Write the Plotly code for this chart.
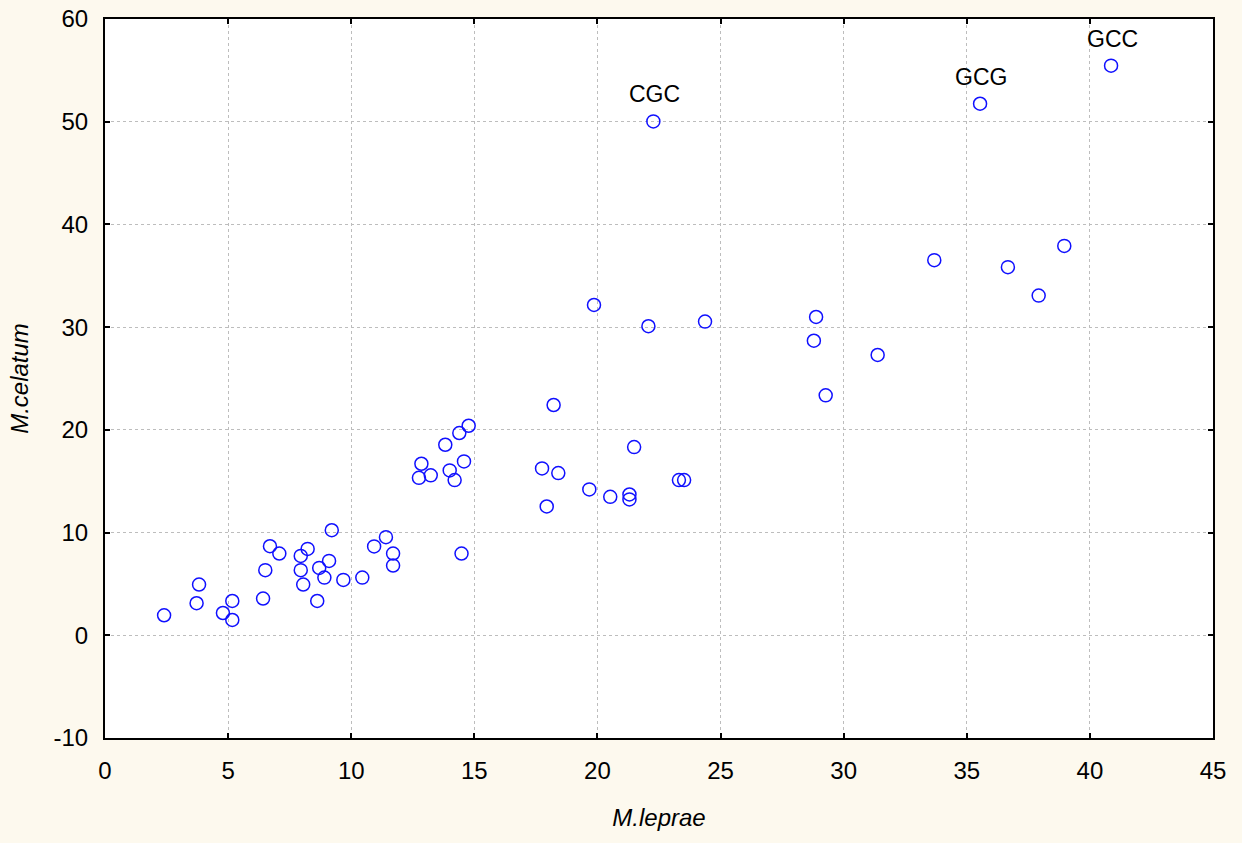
import plotly.graph_objects as go

# Relative codon usage: M. leprae (x) vs M. celatum (y)
m_leprae = [
    2.40, 3.72, 3.82, 4.79, 5.17, 5.17, 6.42, 6.51, 6.70, 7.08,
    7.95, 7.95, 8.05, 8.23, 8.62, 8.70, 8.91, 9.10, 9.21, 9.68,
    10.45, 10.93, 11.41, 11.70, 11.70, 14.48, 18.22, 14.77, 14.39, 13.82,
    12.85, 14.58, 14.00, 12.75, 13.23, 14.20, 17.75, 18.41, 21.49, 19.67,
    20.52, 21.30, 21.30, 17.94, 23.31, 23.52, 19.86, 22.07, 24.37, 28.88,
    28.79, 31.38, 29.27, 33.68, 36.67, 38.96, 37.92, 22.27, 35.54, 40.86,
]
m_celatum = [
    1.95, 3.12, 4.94, 2.17, 3.34, 1.49, 3.58, 6.34, 8.67, 7.96,
    7.73, 6.34, 4.94, 8.41, 3.34, 6.56, 5.62, 7.24, 10.23, 5.39,
    5.62, 8.65, 9.55, 7.96, 6.79, 7.96, 22.42, 20.40, 19.69, 18.55,
    16.70, 16.93, 16.05, 15.33, 15.57, 15.11, 16.25, 15.79, 18.32, 14.20,
    13.48, 13.71, 13.23, 12.54, 15.11, 15.11, 32.16, 30.09, 30.54, 30.99,
    28.68, 27.29, 23.36, 36.52, 35.84, 37.91, 33.07, 50.03, 51.75, 55.46,
]

# Codons singled out with a label
labeled_codons = ["CGC", "GCG", "GCC"]
labeled_x = [22.27, 35.54, 40.86]
labeled_y = [50.03, 51.75, 55.46]

x_ticks = [0, 5, 10, 15, 20, 25, 30, 35, 40, 45]
y_ticks = [-10, 0, 10, 20, 30, 40, 50, 60]

FONT = "Liberation Sans, Arial, sans-serif"

fig = go.Figure()
fig.add_trace(go.Scatter(
    x=m_leprae,
    y=m_celatum,
    mode="markers",
    marker=dict(symbol="circle-open", size=13, color="#1010FF",
                line=dict(width=1.5, color="#1010FF")),
    showlegend=False,
    hoverinfo="x+y",
))

for name, lx, ly in zip(labeled_codons, labeled_x, labeled_y):
    fig.add_annotation(
        x=lx, y=ly, text=name, showarrow=False,
        yshift=27, xshift=1,
        font=dict(family=FONT, size=23, color="black"),
    )

axis_common = dict(
    showline=True, linecolor="black", linewidth=2, mirror="ticks",
    ticks="inside", ticklen=5, tickwidth=2, tickcolor="black",
    showgrid=True, gridcolor="#BDBDBD", gridwidth=1, griddash="dot",
    zeroline=False, automargin=False,
    tickfont=dict(family=FONT, size=24, color="black"),
)

fig.update_xaxes(
    range=[0, 45], tickvals=x_ticks, ticktext=[str(v) for v in x_ticks],
    ticklabelstandoff=10,
    title=dict(text="<i>M.leprae</i>", standoff=26,
               font=dict(family=FONT, size=24, color="black")),
    **axis_common,
)
fig.update_yaxes(
    range=[-10, 60], tickvals=y_ticks, ticktext=[str(v) for v in y_ticks],
    ticklabelstandoff=10,
    title=dict(text="<i>M.celatum</i>", standoff=18,
               font=dict(family=FONT, size=24, color="black")),
    **axis_common,
)

fig.update_layout(
    width=1242, height=843,
    margin=dict(l=105, r=29, t=19, b=105, autoexpand=False),
    paper_bgcolor="#FDF9EE",
    plot_bgcolor="white",
    font=dict(family=FONT, color="black"),
)

fig.write_html("out.html")
